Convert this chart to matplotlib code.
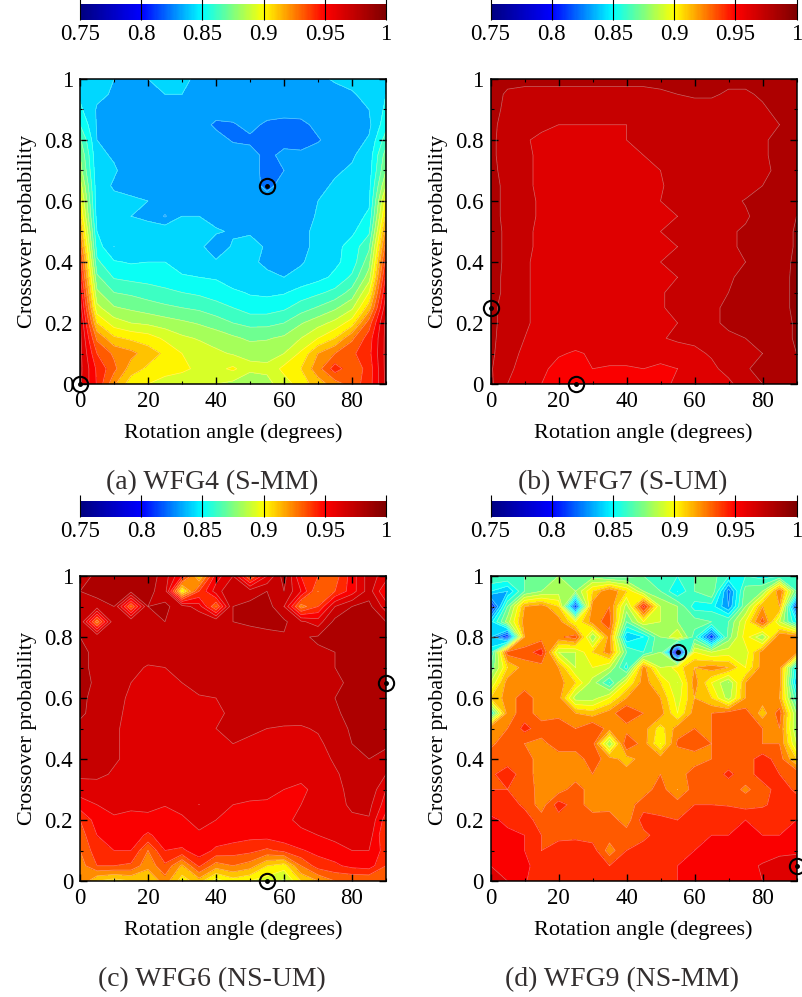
import numpy as np
import matplotlib
matplotlib.use("Agg")
import matplotlib.pyplot as plt
from matplotlib.colors import LinearSegmentedColormap, Normalize
from matplotlib.cm import ScalarMappable

plt.rcParams["font.family"] = ["Liberation Serif", "DejaVu Serif"]

# grid of the sweep
angles = [0, 5, 10, 15, 20, 25, 30, 35, 40, 45, 50, 55, 60, 65, 70, 75, 80, 85, 90]
crossover = [1.0, 0.95, 0.9, 0.85, 0.8, 0.75, 0.7, 0.65, 0.6, 0.55, 0.5,
             0.45, 0.4, 0.35, 0.3, 0.25, 0.2, 0.15, 0.1, 0.05, 0.0]

# hypervolume (in %), one row per crossover value, top row is p=1
wfg4 = [
    [84.5, 84.2, 84.0, 84.0, 84.0, 84.6, 84.2, 83.8, 83.8, 83.8, 83.8, 84.0, 84.0, 84.0, 83.8, 84.1, 84.3, 84.5, 85.0],
    [84.8, 84.2, 83.9, 84.0, 84.0, 84.0, 84.0, 83.7, 83.5, 83.5, 83.6, 83.6, 83.6, 83.6, 83.5, 83.7, 83.9, 84.3, 85.0],
    [85.2, 83.9, 83.5, 83.5, 83.5, 83.5, 83.5, 83.5, 83.5, 83.5, 83.5, 83.5, 83.5, 83.5, 83.5, 83.5, 83.5, 84.0, 85.2],
    [86.0, 83.9, 83.5, 83.5, 83.5, 83.5, 83.5, 83.5, 82.8, 82.9, 83.3, 82.8, 82.6, 82.7, 83.3, 83.5, 83.5, 83.8, 85.6],
    [87.2, 84.0, 83.5, 83.5, 83.5, 83.5, 83.5, 83.5, 83.4, 82.9, 82.8, 82.4, 82.6, 82.8, 82.9, 83.5, 83.6, 84.1, 86.5],
    [88.0, 84.2, 83.9, 83.5, 83.5, 83.5, 83.5, 83.5, 83.5, 83.5, 83.4, 82.7, 83.3, 83.1, 83.5, 83.7, 83.9, 84.4, 87.5],
    [88.5, 84.3, 84.1, 83.6, 83.5, 83.5, 83.5, 83.5, 83.5, 83.5, 83.5, 82.6, 83.0, 83.5, 83.6, 83.9, 84.1, 84.5, 88.0],
    [89.5, 84.4, 83.9, 83.8, 83.6, 83.5, 83.5, 83.5, 83.5, 83.5, 83.5, 82.7, 83.4, 83.5, 83.8, 84.1, 84.2, 84.7, 89.0],
    [90.5, 84.4, 84.2, 84.1, 84.0, 83.7, 83.9, 83.8, 83.5, 83.5, 83.5, 83.5, 83.5, 83.6, 84.0, 84.2, 84.3, 84.8, 90.5],
    [91.2, 84.6, 84.2, 84.0, 83.9, 82.9, 84.0, 84.0, 83.7, 83.6, 83.5, 83.5, 83.5, 83.6, 84.1, 84.2, 84.5, 85.2, 91.3],
    [92.3, 85.0, 84.2, 84.3, 84.2, 84.8, 84.3, 84.1, 84.1, 83.9, 83.9, 83.5, 83.5, 83.9, 84.1, 84.3, 84.8, 85.8, 92.5],
    [93.3, 85.5, 84.0, 84.4, 84.7, 84.9, 84.4, 84.2, 83.5, 84.1, 84.3, 83.9, 83.5, 83.8, 84.2, 84.7, 85.4, 86.8, 93.5],
    [94.5, 86.2, 85.1, 84.9, 85.0, 85.0, 84.2, 84.3, 84.1, 84.2, 84.1, 83.9, 83.9, 83.9, 84.4, 84.8, 85.4, 87.6, 94.5],
    [95.2, 87.2, 85.9, 85.7, 85.6, 85.3, 85.2, 85.0, 84.9, 84.4, 84.2, 84.1, 84.0, 84.3, 84.7, 85.2, 86.2, 88.5, 95.3],
    [96.0, 88.2, 87.0, 86.8, 86.5, 86.3, 86.0, 85.8, 85.5, 85.2, 84.9, 84.8, 84.9, 85.4, 85.8, 86.3, 87.4, 90.0, 96.0],
    [96.7, 89.3, 88.1, 87.8, 87.5, 87.2, 87.0, 86.8, 86.4, 86.0, 85.5, 85.5, 85.8, 86.5, 87.1, 87.8, 88.8, 91.5, 96.7],
    [97.2, 91.0, 89.5, 89.0, 88.8, 88.5, 88.2, 87.9, 87.5, 87.0, 86.7, 86.7, 87.0, 87.9, 88.6, 89.3, 90.5, 93.5, 97.3],
    [97.3, 92.8, 91.2, 90.8, 90.5, 89.8, 89.2, 88.9, 88.6, 88.2, 87.8, 87.9, 88.2, 89.0, 90.0, 91.0, 92.8, 94.5, 97.3],
    [97.3, 94.0, 92.8, 92.3, 91.5, 90.8, 90.0, 89.6, 89.2, 88.9, 88.7, 88.7, 89.0, 90.2, 92.0, 93.0, 93.8, 94.7, 97.3],
    [97.3, 94.8, 93.3, 91.5, 90.8, 90.2, 90.1, 89.9, 89.7, 90.2, 89.3, 89.2, 90.3, 91.0, 92.6, 94.5, 93.3, 94.4, 97.3],
    [97.2, 94.9, 92.2, 90.4, 90.0, 89.8, 89.7, 89.4, 89.0, 88.7, 88.0, 88.7, 89.5, 90.5, 91.5, 92.5, 93.5, 94.5, 97.2],
]

wfg7 = [
    [98.4, 98.2, 98.2, 98.2, 98.2, 98.2, 98.2, 98.2, 98.2, 98.2, 98.2, 98.2, 98.2, 98.2, 98.2, 98.2, 98.2, 98.2, 98.4],
    [98.3, 97.9, 97.8, 97.8, 97.8, 97.8, 97.8, 97.8, 97.8, 97.8, 97.9, 98.0, 98.1, 98.1, 97.9, 97.9, 98.1, 98.2, 98.4],
    [98.3, 97.8, 97.6, 97.5, 97.5, 97.5, 97.5, 97.4, 97.4, 97.5, 97.6, 97.7, 97.7, 97.7, 97.7, 97.8, 97.9, 98.2, 98.4],
    [98.2, 97.7, 97.4, 97.1, 97.0, 97.0, 97.0, 97.0, 97.0, 97.1, 97.3, 97.5, 97.5, 97.5, 97.5, 97.5, 97.7, 98.0, 98.3],
    [98.2, 97.6, 97.05, 96.9, 96.7, 96.8, 96.9, 96.9, 97.0, 97.2, 97.4, 97.5, 97.5, 97.5, 97.5, 97.6, 97.9, 98.2, 98.4],
    [98.2, 97.6, 97.1, 96.9, 96.7, 96.7, 96.7, 96.7, 96.9, 97.0, 97.3, 97.5, 97.5, 97.5, 97.5, 97.6, 97.9, 98.2, 98.4],
    [98.3, 97.6, 97.1, 96.9, 96.7, 96.7, 96.7, 96.7, 96.7, 96.9, 97.0, 97.3, 97.5, 97.5, 97.5, 97.6, 97.9, 98.1, 98.3],
    [98.4, 97.7, 97.1, 96.9, 96.7, 96.7, 96.7, 96.7, 96.7, 96.9, 96.95, 97.2, 97.5, 97.5, 97.5, 97.7, 98.0, 98.3, 98.8],
    [98.4, 97.7, 97.2, 96.9, 96.7, 96.7, 96.7, 96.7, 96.7, 96.9, 97.0, 97.2, 97.4, 97.6, 97.8, 98.05, 98.3, 98.5, 99.0],
    [98.4, 97.7, 97.2, 96.9, 96.7, 96.7, 96.7, 96.7, 96.7, 96.9, 96.9, 97.0, 97.4, 97.6, 97.8, 97.9, 98.3, 98.5, 99.0],
    [98.4, 97.8, 97.2, 96.8, 96.7, 96.7, 96.7, 96.7, 96.7, 96.9, 97.0, 97.3, 97.5, 97.7, 97.9, 98.1, 98.4, 98.6, 99.1],
    [98.4, 97.8, 97.2, 96.8, 96.7, 96.7, 96.7, 96.7, 96.7, 96.9, 96.9, 97.0, 97.5, 97.7, 97.9, 98.1, 98.4, 98.6, 99.1],
    [98.4, 97.8, 97.1, 96.8, 96.7, 96.7, 96.7, 96.7, 96.7, 96.8, 97.0, 97.4, 97.6, 97.8, 97.9, 98.0, 98.4, 98.6, 99.2],
    [98.3, 97.8, 97.1, 96.8, 96.7, 96.7, 96.7, 96.7, 96.7, 96.8, 97.0, 97.0, 97.5, 97.7, 97.9, 98.2, 98.4, 98.7, 99.2],
    [98.3, 97.8, 97.1, 96.8, 96.7, 96.7, 96.7, 96.7, 96.7, 96.8, 96.9, 97.3, 97.6, 97.8, 98.0, 98.3, 98.5, 98.7, 99.2],
    [98.2, 97.7, 97.1, 96.8, 96.7, 96.7, 96.7, 96.7, 96.7, 96.8, 96.9, 97.3, 97.7, 97.9, 98.1, 98.4, 98.6, 98.7, 99.2],
    [98.2, 97.7, 97.1, 96.8, 96.6, 96.6, 96.6, 96.6, 96.7, 96.8, 96.9, 97.0, 97.6, 97.9, 98.1, 98.4, 98.6, 98.7, 99.1],
    [98.2, 97.6, 97.0, 96.7, 96.5, 96.4, 96.5, 96.5, 96.5, 96.7, 96.95, 97.1, 97.2, 97.5, 97.9, 98.0, 98.4, 98.7, 99.1],
    [98.2, 97.4, 96.8, 96.5, 96.1, 95.9, 96.1, 96.4, 96.4, 96.3, 96.4, 96.7, 96.8, 97.1, 97.6, 97.9, 98.0, 98.6, 99.0],
    [98.1, 97.3, 96.5, 96.2, 95.7, 95.5, 96.0, 95.9, 95.9, 96.0, 95.8, 96.0, 96.4, 96.8, 97.3, 97.9, 98.3, 98.6, 99.0],
    [98.2, 97.0, 96.2, 96.0, 95.7, 95.4, 95.9, 95.7, 95.7, 96.0, 95.7, 96.2, 96.0, 96.0, 96.8, 97.5, 98.0, 98.6, 99.0],
]

wfg6 = [
    [97.0, 98.5, 98.6, 98.5, 98.6, 97.5, 95.0, 91.0, 95.5, 97.0, 93.0, 96.0, 98.5, 95.0, 94.0, 93.5, 95.5, 97.5, 96.5],
    [98.0, 98.4, 98.5, 98.3, 98.3, 97.5, 90.0, 94.0, 96.5, 98.0, 97.5, 98.0, 98.0, 96.0, 93.0, 94.0, 95.5, 97.5, 95.0],
    [98.0, 97.5, 98.0, 93.0, 98.0, 98.2, 97.5, 96.5, 93.0, 98.0, 98.3, 98.5, 97.0, 92.5, 94.0, 97.0, 98.0, 98.3, 96.5],
    [98.0, 92.5, 97.9, 97.9, 98.0, 98.0, 98.0, 98.0, 97.9, 98.0, 98.2, 98.3, 98.2, 97.2, 96.5, 98.3, 98.3, 98.3, 98.0],
    [98.0, 97.9, 97.6, 97.5, 97.5, 97.5, 97.5, 97.5, 97.5, 97.5, 97.5, 97.7, 97.9, 97.9, 98.1, 98.2, 98.2, 98.2, 98.5],
    [98.2, 97.8, 97.5, 97.5, 97.5, 97.5, 97.5, 97.5, 97.5, 97.5, 97.5, 97.5, 97.6, 97.8, 97.9, 98.0, 98.2, 98.2, 98.4],
    [98.3, 97.7, 97.5, 97.3, 96.9, 97.0, 97.4, 97.5, 97.5, 97.5, 97.5, 97.5, 97.5, 97.6, 97.8, 98.0, 98.2, 98.2, 98.4],
    [98.4, 97.8, 97.3, 97.0, 96.9, 96.9, 97.0, 97.2, 97.4, 97.5, 97.5, 97.5, 97.5, 97.5, 97.6, 97.8, 98.2, 98.3, 98.4],
    [98.3, 97.6, 97.2, 96.9, 96.7, 96.7, 96.9, 96.95, 97.0, 97.3, 97.5, 97.5, 97.5, 97.5, 97.6, 98.0, 98.2, 98.3, 98.5],
    [98.2, 97.6, 97.1, 96.9, 96.7, 96.7, 96.8, 96.9, 96.9, 97.1, 97.3, 97.5, 97.5, 97.4, 97.4, 97.9, 98.2, 98.2, 98.3],
    [97.7, 97.6, 97.1, 96.8, 96.7, 96.7, 96.7, 96.9, 97.0, 97.1, 97.1, 97.0, 96.9, 96.9, 97.1, 97.7, 98.1, 98.2, 98.1],
    [97.7, 97.6, 97.1, 96.8, 96.7, 96.7, 96.7, 96.8, 97.0, 97.0, 96.9, 97.0, 96.8, 96.7, 96.8, 97.4, 98.0, 98.2, 98.1],
    [97.4, 97.5, 97.1, 96.8, 96.7, 96.7, 96.7, 96.8, 96.9, 96.9, 96.9, 96.9, 96.8, 96.6, 96.7, 97.1, 97.7, 98.0, 97.8],
    [97.2, 97.2, 96.9, 96.7, 96.7, 96.6, 96.7, 96.7, 96.7, 96.7, 96.6, 96.6, 96.5, 96.3, 96.3, 96.9, 97.3, 98.0, 97.0],
    [96.5, 96.6, 96.4, 96.5, 96.5, 96.5, 96.5, 96.4, 96.4, 96.4, 96.3, 96.2, 96.0, 95.8, 96.3, 96.8, 97.2, 97.8, 96.0],
    [95.5, 96.0, 96.2, 96.2, 96.1, 96.1, 96.2, 96.0, 96.2, 96.0, 95.9, 95.9, 95.9, 96.0, 96.6, 96.8, 97.1, 97.3, 95.5],
    [94.0, 95.5, 95.9, 95.7, 95.9, 95.1, 95.9, 96.2, 96.0, 95.8, 95.6, 95.7, 95.9, 96.1, 96.6, 96.9, 96.9, 96.9, 94.5],
    [93.5, 95.0, 95.7, 95.6, 94.8, 95.6, 95.8, 95.9, 95.6, 95.5, 95.3, 95.4, 95.7, 95.9, 96.0, 96.3, 96.6, 96.5, 94.0],
    [93.0, 94.6, 95.0, 95.0, 93.0, 95.0, 94.8, 95.6, 94.8, 94.5, 94.3, 93.8, 94.3, 94.9, 95.3, 95.6, 96.0, 96.0, 94.5],
    [92.5, 94.0, 94.0, 93.8, 92.3, 93.8, 91.8, 94.2, 92.5, 93.0, 92.5, 91.0, 90.5, 93.0, 94.5, 94.8, 95.3, 95.5, 94.0],
    [93.0, 91.0, 90.5, 91.0, 91.0, 92.5, 90.5, 91.5, 89.5, 90.5, 90.0, 89.5, 88.8, 91.0, 92.0, 93.0, 93.0, 93.0, 93.0],
]

wfg9 = [
    [87.0, 87.0, 87.0, 87.5, 88.0, 87.5, 87.5, 86.5, 86.5, 87.0, 87.0, 86.0, 87.0, 87.5, 86.0, 86.0, 85.5, 86.0, 87.0],
    [85.0, 84.0, 87.0, 88.0, 88.5, 88.0, 91.0, 93.0, 91.0, 88.0, 87.0, 85.0, 87.0, 88.0, 82.5, 87.5, 88.0, 93.0, 87.0],
    [80.0, 87.0, 92.0, 92.5, 91.0, 81.0, 92.5, 93.0, 88.5, 94.5, 89.0, 88.0, 85.5, 85.5, 83.0, 88.0, 92.0, 92.0, 81.0],
    [84.5, 88.5, 92.5, 92.5, 92.5, 90.0, 92.5, 93.5, 87.0, 90.0, 89.0, 88.0, 87.5, 87.0, 87.0, 90.0, 93.5, 89.0, 85.0],
    [84.0, 80.5, 92.0, 92.5, 92.7, 93.5, 88.0, 92.5, 84.0, 85.0, 88.0, 90.0, 86.5, 81.0, 87.5, 90.5, 88.0, 93.0, 93.0],
    [85.5, 93.5, 93.5, 94.5, 89.0, 89.0, 91.0, 92.5, 87.0, 86.0, 88.0, 78.0, 90.0, 89.0, 89.5, 89.5, 92.5, 92.5, 92.5],
    [87.0, 91.0, 92.5, 92.5, 92.0, 89.0, 90.0, 89.0, 85.5, 92.5, 89.0, 90.5, 92.0, 92.5, 92.0, 90.0, 92.5, 92.5, 85.0],
    [89.0, 92.5, 92.5, 92.5, 92.5, 91.0, 88.5, 86.0, 90.0, 92.5, 91.0, 89.0, 92.5, 90.0, 88.0, 92.0, 92.5, 92.5, 84.0],
    [91.0, 92.5, 93.5, 92.5, 92.5, 88.5, 88.5, 90.0, 92.0, 92.5, 92.0, 89.5, 92.0, 91.0, 88.5, 92.0, 92.5, 92.0, 86.0],
    [85.5, 92.5, 93.5, 92.5, 92.5, 92.0, 91.5, 92.5, 94.0, 93.0, 92.5, 90.0, 92.5, 93.0, 93.5, 93.5, 91.5, 93.5, 88.0],
    [93.0, 93.0, 94.3, 93.5, 94.0, 93.0, 94.0, 92.5, 92.5, 92.5, 90.5, 92.5, 93.0, 93.0, 93.5, 93.5, 93.0, 93.0, 88.0],
    [92.8, 93.5, 93.0, 92.7, 93.5, 93.5, 93.5, 88.0, 94.0, 92.5, 90.0, 93.2, 93.5, 93.0, 93.5, 93.5, 93.0, 93.0, 89.0],
    [93.5, 93.5, 93.5, 92.5, 92.5, 92.5, 93.5, 92.5, 91.5, 92.5, 92.5, 92.2, 92.5, 93.0, 93.5, 93.5, 94.5, 93.5, 91.0],
    [93.8, 94.5, 93.5, 92.5, 92.5, 92.5, 93.0, 92.5, 92.5, 92.5, 93.0, 92.5, 93.5, 93.5, 94.2, 93.5, 94.5, 94.0, 93.8],
    [94.0, 94.0, 94.0, 92.3, 92.5, 93.5, 92.5, 92.5, 92.5, 92.5, 93.5, 92.0, 93.5, 94.0, 93.5, 92.8, 93.5, 94.5, 93.8],
    [94.5, 94.5, 93.8, 92.5, 94.5, 93.5, 92.5, 92.6, 92.5, 93.5, 93.5, 93.5, 94.0, 94.0, 93.9, 93.6, 93.8, 94.5, 94.5],
    [95.2, 94.8, 94.5, 93.5, 93.5, 93.5, 93.5, 93.5, 92.5, 94.5, 94.2, 94.0, 94.5, 94.7, 95.0, 95.0, 95.0, 95.0, 95.0],
    [95.5, 95.2, 95.0, 94.0, 93.7, 93.7, 93.5, 93.5, 93.5, 93.7, 94.5, 94.3, 94.8, 95.0, 95.0, 95.1, 95.0, 95.0, 95.2],
    [95.5, 95.5, 95.0, 94.0, 94.5, 94.7, 94.5, 92.5, 94.0, 94.5, 94.5, 94.2, 95.0, 95.1, 95.1, 95.2, 95.5, 95.7, 95.8],
    [96.0, 96.0, 95.4, 94.2, 94.5, 94.7, 94.5, 94.0, 94.2, 94.2, 94.5, 95.0, 95.2, 95.4, 95.5, 95.7, 96.1, 96.5, 96.6],
    [96.2, 96.0, 95.1, 94.4, 94.6, 94.6, 94.6, 94.6, 94.6, 94.7, 94.9, 95.0, 95.2, 95.4, 95.5, 95.7, 96.0, 96.4, 97.0],
]

panel_grids = [wfg4, wfg7, wfg6, wfg9]
captions = ["(a) WFG4 (S-MM)", "(b) WFG7 (S-UM)", "(c) WFG6 (NS-UM)", "(d) WFG9 (NS-MM)"]
# best settings marked on each map (angle, crossover)
best_points = [[(0, 0), (55, 0.65)], [(0, 0.25), (25, 0)], [(55, 0), (90, 0.65)], [(55, 0.75), (90, 0.05)]]
cbar_ticks = [0.75, 0.8, 0.85, 0.9, 0.95, 1]
cbar_labels = ["0.75", "0.8", "0.85", "0.9", "0.95", "1"]

cmap = LinearSegmentedColormap.from_list(
    "rainbow5", [(0, 0, 0.5), (0, 0, 1), (0, 1, 1), (1, 1, 0), (1, 0, 0), (0.5, 0, 0)], N=256)
levels = np.arange(0.75, 1.0001, 0.01)
# bands take the colour a bit below their middle
band_norm = Normalize(0.753, 1.003)

W, H = 802, 997
fig = plt.figure(figsize=(W / 100, H / 100), dpi=100)


def px_axes(x0, y0, x1, y1):
    return fig.add_axes([x0 / W, 1 - y1 / H, (x1 - x0) / W, (y1 - y0) / H])


# left/right columns and top/bottom rows, in pixels
lefts = [80, 490.5, 80, 490.5]
tops = [79, 79, 576, 576]

for i in range(4):
    x0 = lefts[i]
    y0 = tops[i]
    x1 = x0 + 306
    y1 = y0 + 305

    ax = px_axes(x0, y0, x1, y1)
    z = np.array(panel_grids[i]) / 100
    ax.contourf(angles, crossover, z, levels=levels, cmap=cmap, norm=band_norm, extend="both")
    ax.contour(angles, crossover, z, levels=levels, colors="white", linewidths=0.5, alpha=0.4)
    ax.set_xlim(0, 90)
    ax.set_ylim(0, 1)
    ax.set_xticks([0, 20, 40, 60, 80])
    ax.set_yticks([0, 0.2, 0.4, 0.6, 0.8, 1])
    ax.set_yticklabels(["0", "0.2", "0.4", "0.6", "0.8", "1"])
    ax.set_xticks([10, 30, 50, 70, 90], minor=True)
    ax.set_yticks([0.1, 0.3, 0.5, 0.7, 0.9], minor=True)
    ax.tick_params(which="major", direction="in", top=True, right=True, length=5, width=1,
                   labelsize=16.5, pad=5)
    ax.tick_params(which="minor", direction="in", top=True, right=True, length=2.5, width=0.8)
    ax.set_xlabel("Rotation angle (degrees)", fontsize=16, labelpad=8.5)
    ax.set_ylabel("Crossover probability", fontsize=16, labelpad=5)
    for s in ax.spines.values():
        s.set_linewidth(1.1)

    for px, py in best_points[i]:
        ax.plot(px, py, "o", ms=11, mfc="none", mec="black", mew=1.5, clip_on=False, zorder=5)
        ax.plot(px, py, "o", ms=2.5, color="black", clip_on=False, zorder=5)

    # caption sits left of the map's centre
    ax.text(0.431, -0.323, captions[i], transform=ax.transAxes, ha="center", va="center",
            fontsize=20, color="#332f2f")

    # colour bar above the map, with a norm of its own
    cax = px_axes(x0, y0 - 75, x1, y0 - 59)
    cb = fig.colorbar(ScalarMappable(norm=Normalize(0.75, 1.0), cmap=cmap), cax=cax, orientation="horizontal")
    cb.set_ticks(cbar_ticks)
    cb.set_ticklabels(cbar_labels)
    cb.minorticks_off()
    cb.outline.set_visible(False)
    cax.tick_params(axis="x", direction="in", length=16, width=0.8, labelsize=16.5, pad=3)

fig.savefig("out.png", dpi=100)
